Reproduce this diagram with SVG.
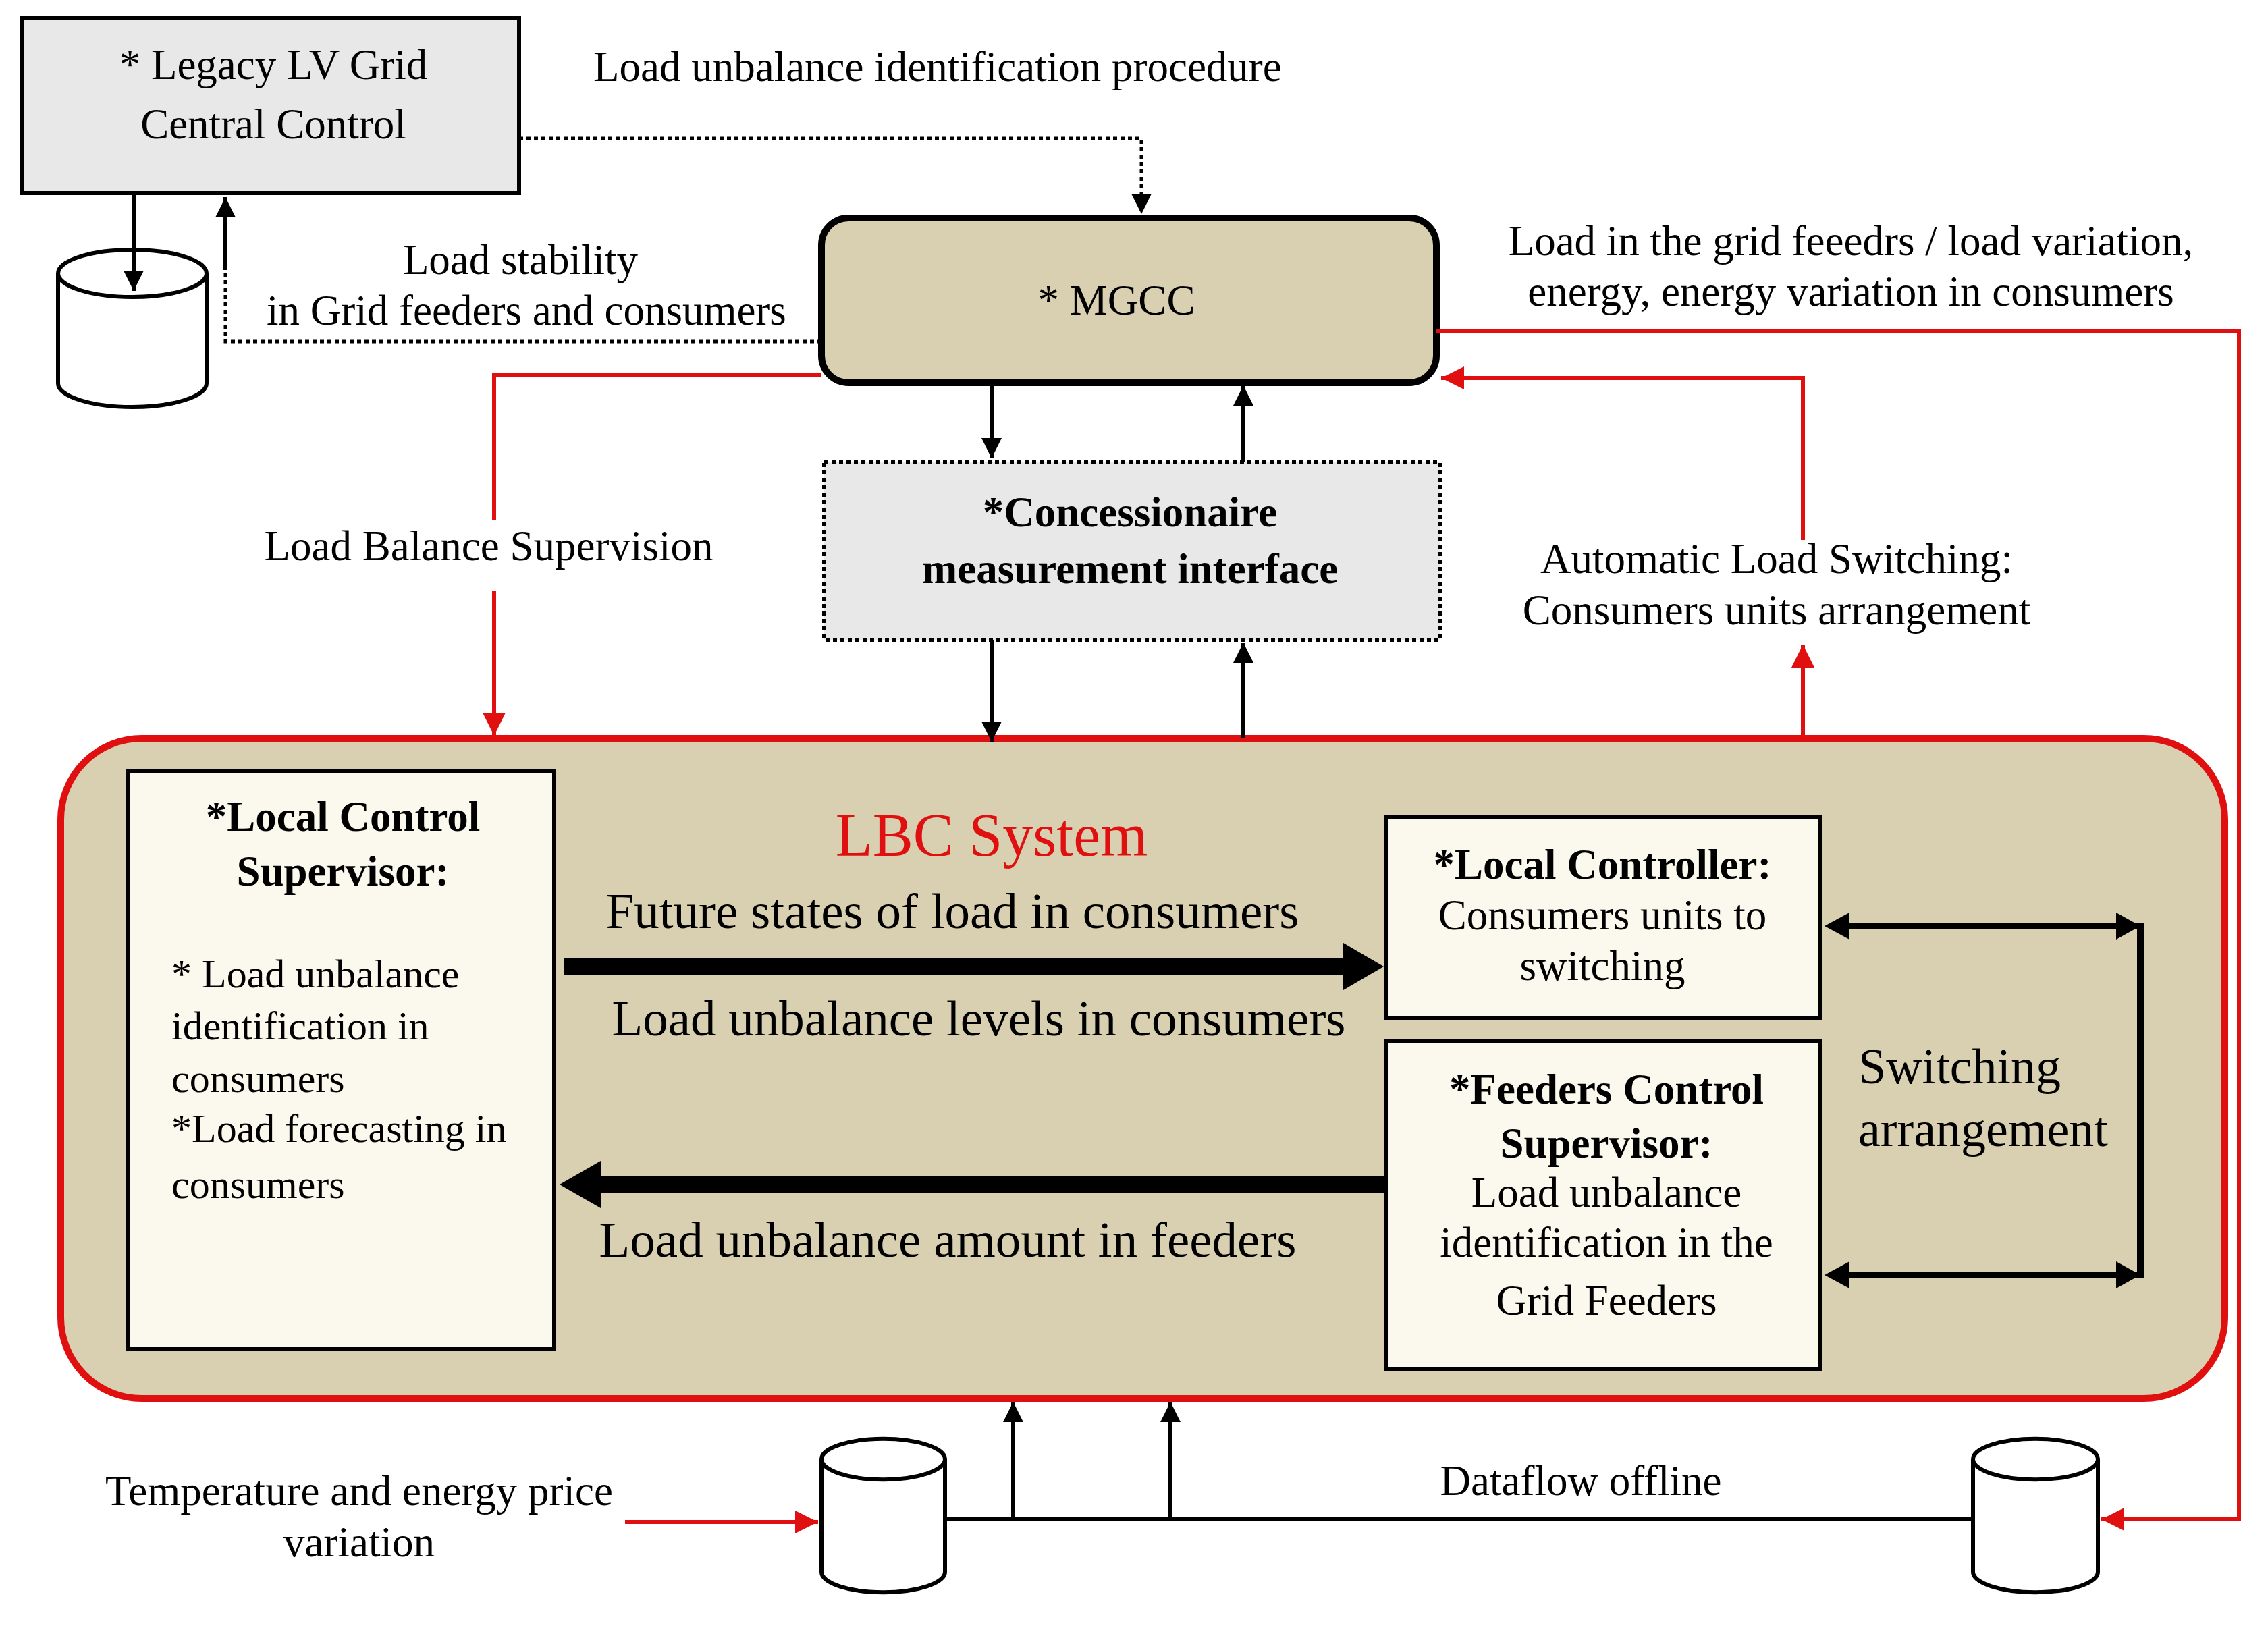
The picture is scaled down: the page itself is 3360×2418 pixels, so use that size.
<svg xmlns="http://www.w3.org/2000/svg" width="3360" height="2418" viewBox="0 0 3360 2418">
<defs>
<style>
text{font-family:"Liberation Serif",serif;fill:#000;text-anchor:middle}
.s{font-size:63px}
.m{font-size:63px}
.b{font-weight:bold}
.l{text-anchor:start}
.k{stroke:#000;fill:none}
.r{stroke:#e01010;fill:none;stroke-width:6}
.cyl{fill:#fff;stroke:#000;stroke-width:6}
</style>
<marker id="a" viewBox="0 0 10 10" refX="10" refY="5" markerWidth="30" markerHeight="30" orient="auto-start-reverse" markerUnits="userSpaceOnUse"><path d="M0,0L10,5L0,10z" fill="#000"/></marker>
<marker id="ar" viewBox="0 0 10 10" refX="10" refY="5" markerWidth="34" markerHeight="34" orient="auto" markerUnits="userSpaceOnUse"><path d="M0,0L10,5L0,10z" fill="#e01010"/></marker>
</defs>
<rect width="3360" height="2418" fill="#fff"/>

<g id="lbc">
<rect x="90" y="1094" width="3206" height="978" rx="120" fill="#d8d0b0" stroke="#e01010" stroke-width="10"/>
<text x="1469" y="1268" style="font-size:90px;fill:#e01010">LBC System</text>
<text x="1411" y="1375" style="font-size:75px">Future states of load in consumers</text>
<text x="1450" y="1534" style="font-size:75px">Load unbalance levels in consumers</text>
<text x="1404" y="1862" style="font-size:75px">Load unbalance amount in feeders</text>
<text x="2753" y="1605" class="l" style="font-size:74px">Switching</text>
<text x="2753" y="1698" class="l" style="font-size:74px">arrangement</text>
</g>

<g id="legacy">
<rect x="32" y="26" width="737" height="260" fill="#e8e8e8" stroke="#000" stroke-width="6"/>
<text x="405" y="117" class="m">* Legacy LV Grid</text>
<text x="405" y="205" class="m">Central Control</text>
</g>
<g id="db1"><path class="cyl" d="M86,405 V568 A110,35 0 0 0 306,568 V405 A110,35 0 0 0 86,405 A110,35 0 0 0 306,405"/></g>
<g id="db2"><path class="cyl" d="M1217,2162 V2329 A91,30 0 0 0 1400,2329 V2162 A91,30 0 0 0 1217,2162 A91,30 0 0 0 1400,2162"/></g>
<g id="db3"><path class="cyl" d="M2923,2162 V2329 A92,30 0 0 0 3108,2329 V2162 A92,30 0 0 0 2923,2162 A92,30 0 0 0 3108,2162"/></g>

<g id="mgcc">
<rect x="1217" y="323" width="911" height="244" rx="40" fill="#d8d0b0" stroke="#000" stroke-width="10"/>
<text x="1654" y="466" class="m">* MGCC</text>
</g>
<g id="conc">
<rect x="1221" y="685" width="912" height="263" fill="#e8e8e8" stroke="#000" stroke-width="6" stroke-dasharray="6 5"/>
<text x="1674" y="780" class="m b">*Concessionaire</text>
<text x="1674" y="864" class="m b">measurement interface</text>
</g>
<g id="lcs">
<rect x="190" y="1142" width="631" height="857" fill="#fbf9ee" stroke="#000" stroke-width="6"/>
<text x="508" y="1231" class="m b">*Local Control</text>
<text x="508" y="1312" class="m b">Supervisor:</text>
<text x="254" y="1463" class="l" style="font-size:60px">* Load unbalance</text>
<text x="254" y="1540" class="l" style="font-size:60px">identification in</text>
<text x="254" y="1618" class="l" style="font-size:60px">consumers</text>
<text x="254" y="1692" class="l" style="font-size:60px">*Load forecasting in</text>
<text x="254" y="1775" class="l" style="font-size:60px">consumers</text>
</g>
<g id="lc">
<rect x="2053" y="1211" width="644" height="297" fill="#fbf9ee" stroke="#000" stroke-width="6"/>
<text x="2374" y="1302" class="m b">*Local Controller:</text>
<text x="2374" y="1377" class="m">Consumers units to</text>
<text x="2374" y="1452" class="m">switching</text>
</g>
<g id="fcs">
<rect x="2053" y="1542" width="644" height="487" fill="#fbf9ee" stroke="#000" stroke-width="6"/>
<text x="2380" y="1635" class="m b">*Feeders Control</text>
<text x="2380" y="1715" class="m b">Supervisor:</text>
<text x="2380" y="1788" class="m">Load unbalance</text>
<text x="2380" y="1862" class="m">identification in the</text>
<text x="2380" y="1948" class="m">Grid Feeders</text>
</g>

<g id="connectors">
<path class="k" stroke-width="5" stroke-dasharray="6 5" d="M769,205H1691V317" marker-end="url(#a)"/>
<path class="k" stroke-width="6" d="M198,286V431" marker-end="url(#a)"/>
<path class="k" stroke-width="5" stroke-dasharray="6 5" d="M1217,506H334V292"/>
<path class="k" stroke-width="6" d="M334,400V292" marker-end="url(#a)"/>
<path class="k" stroke-width="6" d="M1469,567V679" marker-end="url(#a)"/>
<path class="k" stroke-width="6" d="M1842,685V571" marker-end="url(#a)"/>
<path class="k" stroke-width="6" d="M1469,948V1099" marker-end="url(#a)"/>
<path class="k" stroke-width="6" d="M1842,1094V952" marker-end="url(#a)"/>
<path class="r" d="M1217,556H732V770"/>
<path class="r" d="M732,875V1090" marker-end="url(#ar)"/>
<path class="r" d="M2128,491H3317V2251H3113" marker-end="url(#ar)"/>
<path class="r" d="M2671,1094V955" marker-end="url(#ar)"/>
<path class="r" d="M2671,800V560H2135" marker-end="url(#ar)"/>
<path class="r" d="M926,2255H1212" marker-end="url(#ar)"/>
<path class="k" stroke-width="24" d="M836,1432H2000"/>
<path d="M1990,1397L2050,1432L1990,1467z" fill="#000"/>
<path class="k" stroke-width="24" d="M2051,1755H880"/>
<path d="M890,1720L829,1755L890,1790z" fill="#000"/>
<path class="k" stroke-width="10" d="M2740,1372H3171V1889H2740"/>
<path d="M2740,1352L2703,1372L2740,1392z M3135,1352L3171,1372L3135,1392z M2740,1869L2703,1889L2740,1909z M3135,1869L3171,1889L3135,1909z" fill="#000"/>
<path class="k" stroke-width="6" d="M1400,2251H2923"/>
<path class="k" stroke-width="6" d="M1501,2251V2077" marker-end="url(#a)"/>
<path class="k" stroke-width="6" d="M1734,2251V2077" marker-end="url(#a)"/>
</g>

<g id="labels">
<text x="879" y="120" class="s l">Load unbalance identification procedure</text>
<text x="771" y="406" class="s">Load stability</text>
<text x="780" y="481" class="s">in Grid feeders and consumers</text>
<text x="724" y="830" class="s">Load Balance Supervision</text>
<text x="2742" y="378" class="s">Load in the grid feeedrs / load variation,</text>
<text x="2742" y="453" class="s">energy, energy variation in consumers</text>
<text x="2632" y="849" class="s">Automatic Load Switching:</text>
<text x="2632" y="925" class="s">Consumers units arrangement</text>
<text x="2342" y="2215" class="s">Dataflow offline</text>
<text x="532" y="2230" class="s">Temperature and energy price</text>
<text x="532" y="2306" class="s">variation</text>
</g>
</svg>
